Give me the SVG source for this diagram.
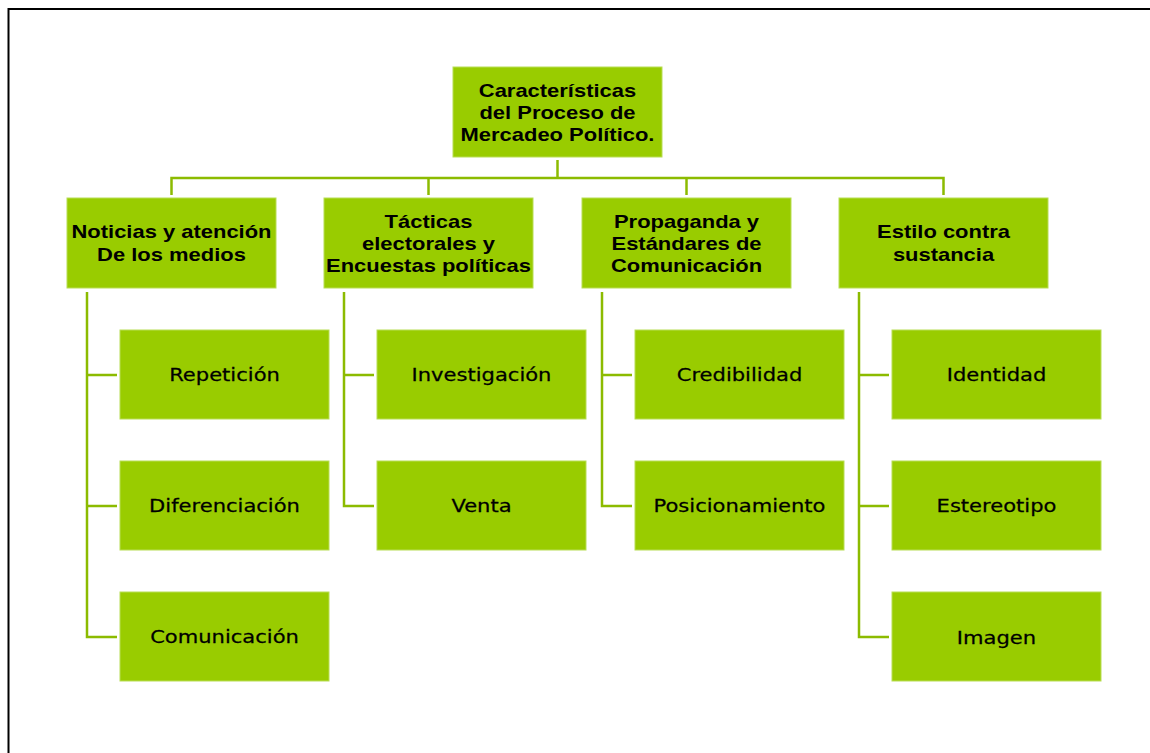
<svg xmlns="http://www.w3.org/2000/svg" width="1150" height="753" viewBox="0 0 1150 753">
<style>
.box{fill:#99cc00;stroke:#b8dd55;stroke-width:1}
.h{font-family:"Liberation Sans",Arial,sans-serif;font-weight:bold;font-size:18px;fill:#000;text-anchor:middle}
.c{font-family:"DejaVu Sans",Verdana,sans-serif;font-size:18px;fill:#000;stroke:#000;stroke-width:0.25;text-anchor:middle}
.ln{fill:none;stroke:#8cbb00;stroke-width:2.5}
</style>
<rect width="1150" height="753" fill="#fff"/>
<path d="M8.5,753 V9 H1150" fill="none" stroke="#000" stroke-width="2"/>
<g id="connectors" class="ln">
<path class="ln" d="M557.5,160 V178"/>
<path class="ln" d="M171.5,195 V178 H943.5 V195"/>
<path class="ln" d="M428.5,178 V195"/>
<path class="ln" d="M686.5,178 V195"/>
<path class="ln" d="M87,292 V637 H117 M87,375 H117 M87,506 H117"/>
<path class="ln" d="M344,292 V506 H374 M344,375 H374"/>
<path class="ln" d="M602,292 V506 H632 M602,375 H632"/>
<path class="ln" d="M859,292 V637 H889 M859,375 H889 M859,506 H889"/>
</g>
<g id="root">
<rect class="box" x="453" y="67" width="209" height="90"/>
<text class="h" transform="translate(557.5 0) scale(1.22 1)"><tspan x="0" y="97.5">Características</tspan><tspan x="0" y="119.5">del Proceso de</tspan><tspan x="0" y="141.5">Mercadeo Político.</tspan></text>
</g>
<g id="n1">
<rect class="box" x="67" y="198" width="209" height="90"/>
<text class="h" transform="translate(171.5 0) scale(1.22 1)"><tspan x="0" y="238.5">Noticias y atención</tspan><tspan x="0" y="261">De los medios</tspan></text>
</g>
<g id="n2">
<rect class="box" x="324" y="198" width="209" height="90"/>
<text class="h" transform="translate(428.5 0) scale(1.22 1)"><tspan x="0" y="228">Tácticas</tspan><tspan x="0" y="250.5">electorales y</tspan><tspan x="0" y="272.5">Encuestas políticas</tspan></text>
</g>
<g id="n3">
<rect class="box" x="582" y="198" width="209" height="90"/>
<text class="h" transform="translate(686.5 0) scale(1.22 1)"><tspan x="0" y="228">Propaganda y</tspan><tspan x="0" y="250.5">Estándares de</tspan><tspan x="0" y="272.5">Comunicación</tspan></text>
</g>
<g id="n4">
<rect class="box" x="839" y="198" width="209" height="90"/>
<text class="h" transform="translate(943.5 0) scale(1.22 1)"><tspan x="0" y="238.5">Estilo contra</tspan><tspan x="0" y="261">sustancia</tspan></text>
</g>
<g id="c11"><rect class="box" x="120" y="330" width="209" height="89"/><text class="c" transform="translate(224.5 0) scale(1.17 1)" x="0" y="381">Repetición</text></g>
<g id="c12"><rect class="box" x="120" y="461" width="209" height="89"/><text class="c" transform="translate(224.5 0) scale(1.17 1)" x="0" y="512">Diferenciación</text></g>
<g id="c13"><rect class="box" x="120" y="592" width="209" height="89"/><text class="c" transform="translate(224.5 0) scale(1.17 1)" x="0" y="643">Comunicación</text></g>
<g id="c21"><rect class="box" x="377" y="330" width="209" height="89"/><text class="c" transform="translate(481.5 0) scale(1.17 1)" x="0" y="381">Investigación</text></g>
<g id="c22"><rect class="box" x="377" y="461" width="209" height="89"/><text class="c" transform="translate(481.5 0) scale(1.17 1)" x="0" y="512">Venta</text></g>
<g id="c31"><rect class="box" x="635" y="330" width="209" height="89"/><text class="c" transform="translate(739.5 0) scale(1.17 1)" x="0" y="381">Credibilidad</text></g>
<g id="c32"><rect class="box" x="635" y="461" width="209" height="89"/><text class="c" transform="translate(739.5 0) scale(1.17 1)" x="0" y="512">Posicionamiento</text></g>
<g id="c41"><rect class="box" x="892" y="330" width="209" height="89"/><text class="c" transform="translate(996.5 0) scale(1.17 1)" x="0" y="381">Identidad</text></g>
<g id="c42"><rect class="box" x="892" y="461" width="209" height="89"/><text class="c" transform="translate(996.5 0) scale(1.17 1)" x="0" y="512">Estereotipo</text></g>
<g id="c43"><rect class="box" x="892" y="592" width="209" height="89"/><text class="c" transform="translate(996.5 0) scale(1.17 1)" x="0" y="644">Imagen</text></g>
</svg>
